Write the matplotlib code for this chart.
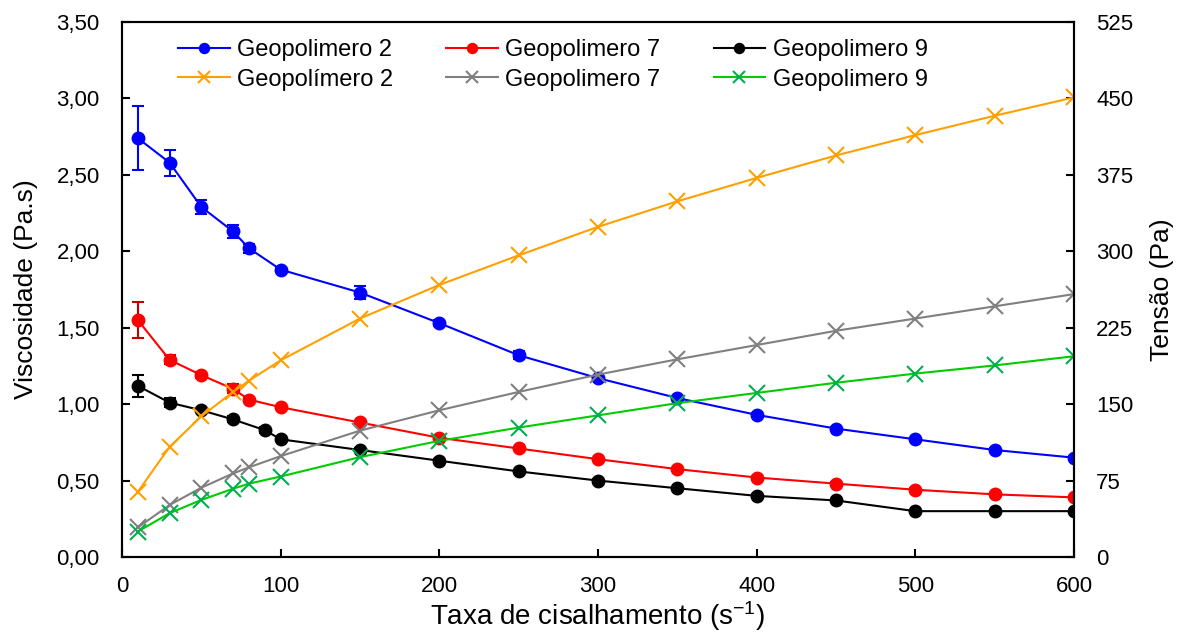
import matplotlib
matplotlib.use("Agg")
import matplotlib.pyplot as plt
from matplotlib.ticker import FuncFormatter, MultipleLocator

plt.rcParams['font.family'] = ['Liberation Sans', 'DejaVu Sans']
plt.rcParams['mathtext.fontset'] = 'custom'
plt.rcParams['mathtext.rm'] = 'Liberation Sans'
plt.rcParams['mathtext.it'] = 'Liberation Sans'

# shear rates (s^-1)
x_main = [10, 30, 50, 70, 80, 100, 150, 200, 250, 300, 350, 400, 450, 500, 550, 600]
x_g9 = [10, 30, 50, 70, 90, 100, 150, 200, 250, 300, 350, 400, 450, 500, 550, 600]

# viscosity (Pa.s)
visc_g2 = [2.74, 2.58, 2.29, 2.13, 2.02, 1.88, 1.73, 1.53, 1.32, 1.17, 1.04, 0.93, 0.84, 0.77, 0.70, 0.65]
visc_g2_err = [0.21, 0.085, 0.045, 0.04, 0.03, 0.015, 0.04, 0.02, 0.025, 0.01, 0.01, 0.01, 0.01, 0.01, 0.01, 0.01]
visc_g7 = [1.55, 1.29, 1.19, 1.10, 1.03, 0.98, 0.88, 0.78, 0.71, 0.64, 0.575, 0.52, 0.48, 0.44, 0.41, 0.39]
visc_g7_err = [0.12, 0.03, 0.02, 0.03, 0.01, 0.01, 0.01, 0.01, 0.01, 0.01, 0.01, 0.01, 0.01, 0.01, 0.01, 0.01]
visc_g9 = [1.12, 1.01, 0.96, 0.90, 0.83, 0.77, 0.70, 0.63, 0.56, 0.50, 0.45, 0.40, 0.37, 0.30, 0.30, 0.30]
visc_g9_err = [0.07, 0.03, 0.01, 0.02, 0.02, 0.01, 0.01, 0.01, 0.01, 0.01, 0.01, 0.01, 0.01, 0.01, 0.01, 0.01]

# shear stress (Pa)
tens_g2 = [64, 108, 138, 162, 173, 193, 234, 267, 296, 324, 349, 372, 394, 414, 433, 451]
tens_g7 = [29, 51, 68, 82, 88, 99, 124, 144, 162, 179, 194, 208, 222, 234, 246, 258]
tens_g9 = [25, 43, 56, 67, 72, 79, 98, 114, 127, 139, 151, 161, 171, 180, 188, 197]

fig = plt.figure(figsize=(11.91, 6.35), dpi=100)
ax = fig.add_axes([0.1024, 0.1228, 0.7994, 0.8426])
ax2 = ax.twinx()

lw = 1.5
eb = dict(marker='o', markersize=9, lw=lw, capsize=4, elinewidth=1.5, capthick=1.5)
h_v2 = ax.errorbar(x_main, visc_g2, yerr=visc_g2_err, color='#0000FF', label='Geopolimero 2', **eb)
h_v7 = ax.errorbar(x_main, visc_g7, yerr=visc_g7_err, color='#FF0000', ecolor='#C00000',
                   label='Geopolimero 7', **eb)
h_v9 = ax.errorbar(x_g9, visc_g9, yerr=visc_g9_err, color='black', label='Geopolimero 9', **eb)

h_t2, = ax2.plot(x_main, tens_g2, color='#FFA000', marker='x', markersize=11, mew=1.5, lw=lw,
                 label='Geopolímero 2')
h_t7, = ax2.plot(x_main, tens_g7, color='#808080', marker='x', markersize=11, mew=1.5, lw=lw,
                 label='Geopolimero 7')
h_t9, = ax2.plot(x_main, tens_g9, color='#00CC00', marker='x', markersize=11, mew=1.5, lw=lw,
                 markeredgecolor='#00B050', label='Geopolimero 9')

ax.set_xlim(0, 600)
ax.set_ylim(0, 3.5)
ax2.set_ylim(0, 525)
ax.xaxis.set_major_locator(MultipleLocator(100))
ax.yaxis.set_major_locator(MultipleLocator(0.5))
ax2.yaxis.set_major_locator(MultipleLocator(75))
ax.yaxis.set_major_formatter(FuncFormatter(lambda v, p: f"{v:.2f}".replace('.', ',')))

for a in (ax, ax2):
    a.tick_params(direction='in', length=6, width=1.5, labelsize=16, pad=16)
    for s in a.spines.values():
        s.set_linewidth(1.5)
ax.tick_params(axis='x', pad=14)

ax.set_xlabel('Taxa de cisalhamento (s$^{-1}$)', fontsize=20, labelpad=1)
ax.set_ylabel('Viscosidade (Pa.s)', fontsize=19, labelpad=13)
ax2.set_ylabel('Tensão (Pa)', fontsize=19, labelpad=12)

# legend shows plain line+marker (no error bar glyph)
handles = [h_v2[0], h_t2, h_v7[0], h_t7, h_v9[0], h_t9]
labels = ['Geopolimero 2', 'Geopolímero 2', 'Geopolimero 7', 'Geopolimero 7',
          'Geopolimero 9', 'Geopolimero 9']
ax2.legend(handles, labels, ncol=3, loc='upper left', bbox_to_anchor=(0.0365, 1.0075), frameon=False,
           fontsize=17, handlelength=2.2, handletextpad=0.3, columnspacing=2.25, labelspacing=0.32,
           markerscale=0.8)

fig.savefig('out.png', dpi=100)
